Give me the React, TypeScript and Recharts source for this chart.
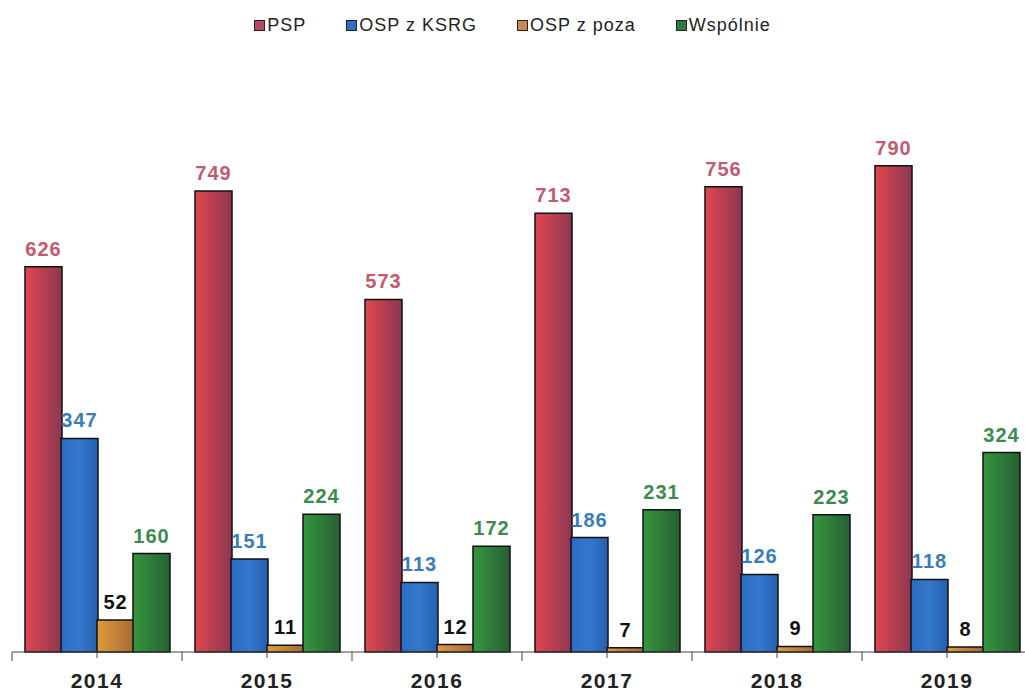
import React from "react";
import { BarChart, Bar, XAxis, YAxis, Legend, LabelList } from "recharts";

const years = ["2014", "2015", "2016", "2017", "2018", "2019"];
const psp = [626, 749, 573, 713, 756, 790];
const ospKsrg = [347, 151, 113, 186, 126, 118];
const ospPoza = [52, 11, 12, 7, 9, 8];
const wspolnie = [160, 224, 172, 231, 223, 324];

const data = years.map((year, i) => ({
  year,
  psp: psp[i],
  ksrg: ospKsrg[i],
  poza: ospPoza[i],
  wsp: wspolnie[i],
}));

const FONT = "'Liberation Sans', Arial, sans-serif";
const W = 1025;
const H = 695;
const MARGIN_L = 12;
const MARGIN_R = -7;
const BAND = (W - MARGIN_L - MARGIN_R) / years.length;

const series = [
  { key: "psp", name: "PSP", fill: "url(#gPsp)", swatch: "#b9475e", label: "#c45a6e" },
  { key: "ksrg", name: "OSP z KSRG", fill: "url(#gKsrg)", swatch: "#2f6fbf", label: "#3a7cb8" },
  { key: "poza", name: "OSP z poza", fill: "url(#gPoza)", swatch: "#c88a52", label: "#111111" },
  { key: "wsp", name: "Wspólnie", fill: "url(#gWsp)", swatch: "#2f7a3f", label: "#3d8a4f" },
];

function LegendBox() {
  return (
    <div
      style={{
        display: "flex",
        justifyContent: "center",
        gap: 40,
        fontFamily: FONT,
        fontSize: 18,
        letterSpacing: 1,
        color: "#222",
        paddingTop: 3,
        marginLeft: -MARGIN_L,
        width: W,
      }}
    >
      {series.map((s) => (
        <span key={s.key} style={{ display: "flex", alignItems: "center" }}>
          <span
            style={{
              width: 9,
              height: 9,
              background: s.swatch,
              border: "1px solid #222",
              marginRight: 2,
              display: "inline-block",
            }}
          />
          {s.name}
        </span>
      ))}
    </div>
  );
}

function YearTick(props: any) {
  const { x, y, payload, index } = props;
  const left = x - BAND / 2;
  return (
    <g>
      <line x1={x} y1={y} x2={x} y2={y + 6} stroke="#444" />
      <line x1={left} y1={y} x2={left} y2={y + 9} stroke="#444" />
      {index === years.length - 1 && (
        <line x1={x + BAND / 2} y1={y} x2={x + BAND / 2} y2={y + 9} stroke="#444" />
      )}
      <text
        x={x}
        y={y + 36}
        textAnchor="middle"
        fontFamily={FONT}
        fontWeight="bold"
        fontSize={21}
        letterSpacing={1.5}
        fill="#222"
      >
        {payload.value}
      </text>
    </g>
  );
}

export default function App() {
  return (
    <div style={{ position: "absolute", left: 0, top: 0, background: "#fff" }}>
      <BarChart
        width={W}
        height={H}
        data={data}
        margin={{ top: 12, right: MARGIN_R, bottom: 0, left: MARGIN_L }}
        barSize={37}
        barGap={-1}
      >
        <defs>
          <linearGradient id="gPsp" x1="0" y1="0" x2="1" y2="0">
            <stop offset="0%" stopColor="#e0474f" />
            <stop offset="100%" stopColor="#8c3752" />
          </linearGradient>
          <linearGradient id="gKsrg" x1="0" y1="0" x2="1" y2="0">
            <stop offset="0%" stopColor="#2a6cc4" />
            <stop offset="50%" stopColor="#3478cc" />
            <stop offset="100%" stopColor="#245fae" />
          </linearGradient>
          <linearGradient id="gPoza" x1="0" y1="0" x2="1" y2="0">
            <stop offset="0%" stopColor="#e29a3c" />
            <stop offset="100%" stopColor="#a36a34" />
          </linearGradient>
          <linearGradient id="gWsp" x1="0" y1="0" x2="1" y2="0">
            <stop offset="0%" stopColor="#35963f" />
            <stop offset="100%" stopColor="#275f33" />
          </linearGradient>
        </defs>
        <XAxis
          dataKey="year"
          height={43}
          axisLine={{ stroke: "#444" }}
          tickLine={false}
          tickSize={0}
          tickMargin={0}
          tick={<YearTick />}
          interval={0}
        />
        <YAxis hide domain={[0, 910]} />
        <Legend verticalAlign="top" height={80} content={() => <LegendBox />} />
        {series.map((s) => (
          <Bar
            key={s.key}
            dataKey={s.key}
            name={s.name}
            fill={s.fill}
            stroke="#111"
            strokeWidth={1.5}
            isAnimationActive={false}
          >
            <LabelList
              dataKey={s.key}
              position="top"
              offset={11}
              fill={s.label}
              fontFamily={FONT}
              fontWeight="bold"
              fontSize={20}
              letterSpacing={1}
            />
          </Bar>
        ))}
      </BarChart>
    </div>
  );
}
